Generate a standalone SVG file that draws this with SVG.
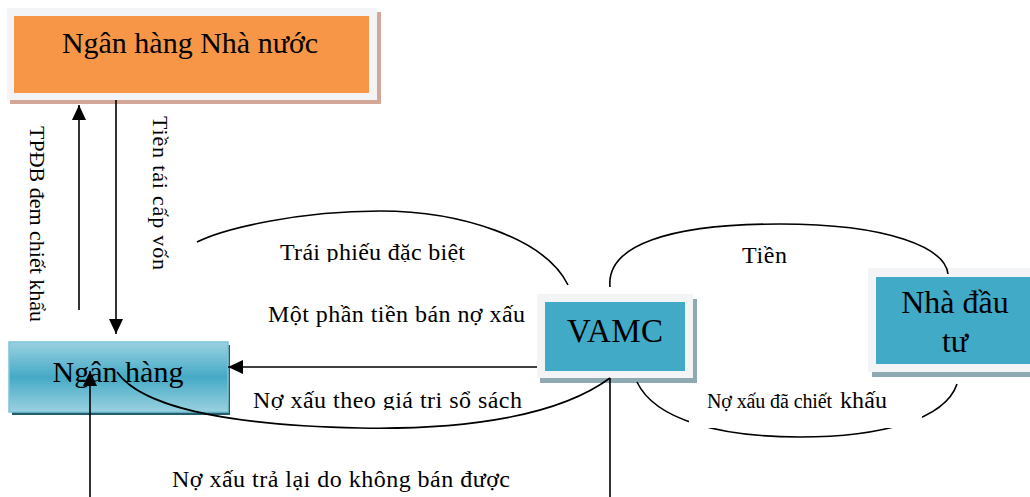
<svg xmlns="http://www.w3.org/2000/svg" width="1030" height="497" viewBox="0 0 1030 497">
<defs>
<style>
text{font-family:"Liberation Serif","Times New Roman",serif;fill:#000}
.frame{fill:#F2F4F6}
.teal{fill:#41AAC6}
.tshadow{fill:#8FA9B3}
.line{fill:none;stroke:#000;stroke-width:1.6}
.arr{fill:none;stroke:#000;stroke-width:1.6;marker-end:url(#ah)}
.lbl{font-size:24px}
</style>
<marker id="ah" markerUnits="userSpaceOnUse" markerWidth="16" markerHeight="15" refX="15" refY="7" orient="auto">
<path d="M0,0 L15,7 L0,14 z" fill="#000"/>
</marker>
<linearGradient id="gNH" x1="0" y1="0" x2="0" y2="1">
<stop offset="0" stop-color="#9AD1E0"/>
<stop offset="0.5" stop-color="#45AAC6"/>
<stop offset="1" stop-color="#9AD1E0"/>
</linearGradient>
<clipPath id="c1"><rect x="0" y="0" width="1030" height="262"/></clipPath>
<clipPath id="c2"><rect x="0" y="0" width="1030" height="410"/></clipPath>
</defs>

<g id="node-nhnn">
<rect x="10" y="12" width="371" height="92" fill="#D3A797"/>
<rect class="frame" x="7" y="8" width="370" height="92"/>
<rect x="14" y="16" width="355" height="77" fill="#F79646"/>
<text x="190" y="53" font-size="30" text-anchor="middle">Ngân hàng Nhà nước</text>
</g>

<g id="node-nganhang">
<rect x="12" y="345" width="218" height="70" fill="#245E6E"/>
<rect x="9" y="342" width="219" height="70" fill="url(#gNH)" stroke="#7CC3D6" stroke-width="1.5"/>
<text x="118" y="382" font-size="30" text-anchor="middle">Ngân hàng</text>
</g>

<g id="node-vamc">
<rect class="tshadow" x="540" y="299" width="157" height="84"/>
<rect class="frame" x="537" y="294" width="156" height="84"/>
<rect class="teal" x="545" y="302" width="140" height="69"/>
<text x="615" y="342" font-size="33" text-anchor="middle" textLength="96" lengthAdjust="spacing">VAMC</text>
</g>

<g id="node-nhadautu">
<rect class="tshadow" x="872" y="272" width="170" height="105"/>
<rect class="frame" x="868" y="268" width="170" height="104"/>
<rect class="teal" x="876" y="277" width="170" height="87"/>
<text x="955" y="313" font-size="32" text-anchor="middle">Nhà đầu</text>
<text x="955" y="352" font-size="32" text-anchor="middle">tư</text>
</g>

<g id="connectors">
<line class="arr" x1="79" y1="310" x2="79" y2="105"/>
<line class="arr" x1="116" y1="100" x2="116" y2="334"/>
<line class="arr" x1="537" y1="367" x2="228" y2="367"/>
<line class="arr" x1="90" y1="497" x2="90" y2="371"/>
<line class="line" x1="610" y1="378" x2="610" y2="497"/>
<path class="line" d="M197,242 C225,228 300,211 380,211 C460,211 545,238 568,285"/>
<path class="line" d="M117,372 C140,405 220,425 360,428 C470,430 560,415 610,378"/>
<path class="line" d="M610,287 C606,245 670,224 780,224 C890,224 945,248 948,274"/>
<path class="line" d="M637,382 C655,420 720,437 800,437 C880,437 945,420 957,384"/>
</g>

<g id="labels">
<g transform="translate(30,126) rotate(90)"><text x="0" y="0" font-size="22" textLength="196" lengthAdjust="spacing">TPĐB đem chiết khẩu</text></g>
<g transform="translate(153,116) rotate(90)"><text x="0" y="0" font-size="22" textLength="154" lengthAdjust="spacing">Tiền  tái cấp vốn</text></g>
<text class="lbl" x="280" y="260" textLength="185" lengthAdjust="spacing" clip-path="url(#c1)">Trái phiếu đặc biệt</text>
<text class="lbl" x="268" y="322" textLength="257" lengthAdjust="spacing">Một phần tiền bán nợ xấu</text>
<text class="lbl" x="253" y="408" textLength="269" lengthAdjust="spacing" clip-path="url(#c2)">Nợ xấu theo giá trị sổ sách</text>
<text x="172" y="487" font-size="24" textLength="338" lengthAdjust="spacing">Nợ xấu trả lại do không bán được</text>
<text x="742" y="263" font-size="24" textLength="45" lengthAdjust="spacing">Tiền</text>
<rect x="689" y="386" width="233" height="42" fill="#FFFFFF"/>
<text x="707" y="408"><tspan font-size="20" textLength="130" lengthAdjust="spacing">Nợ xấu đã chiết </tspan><tspan x="840" font-size="24" textLength="47" lengthAdjust="spacing">khấu</tspan></text>
</g>
</svg>
